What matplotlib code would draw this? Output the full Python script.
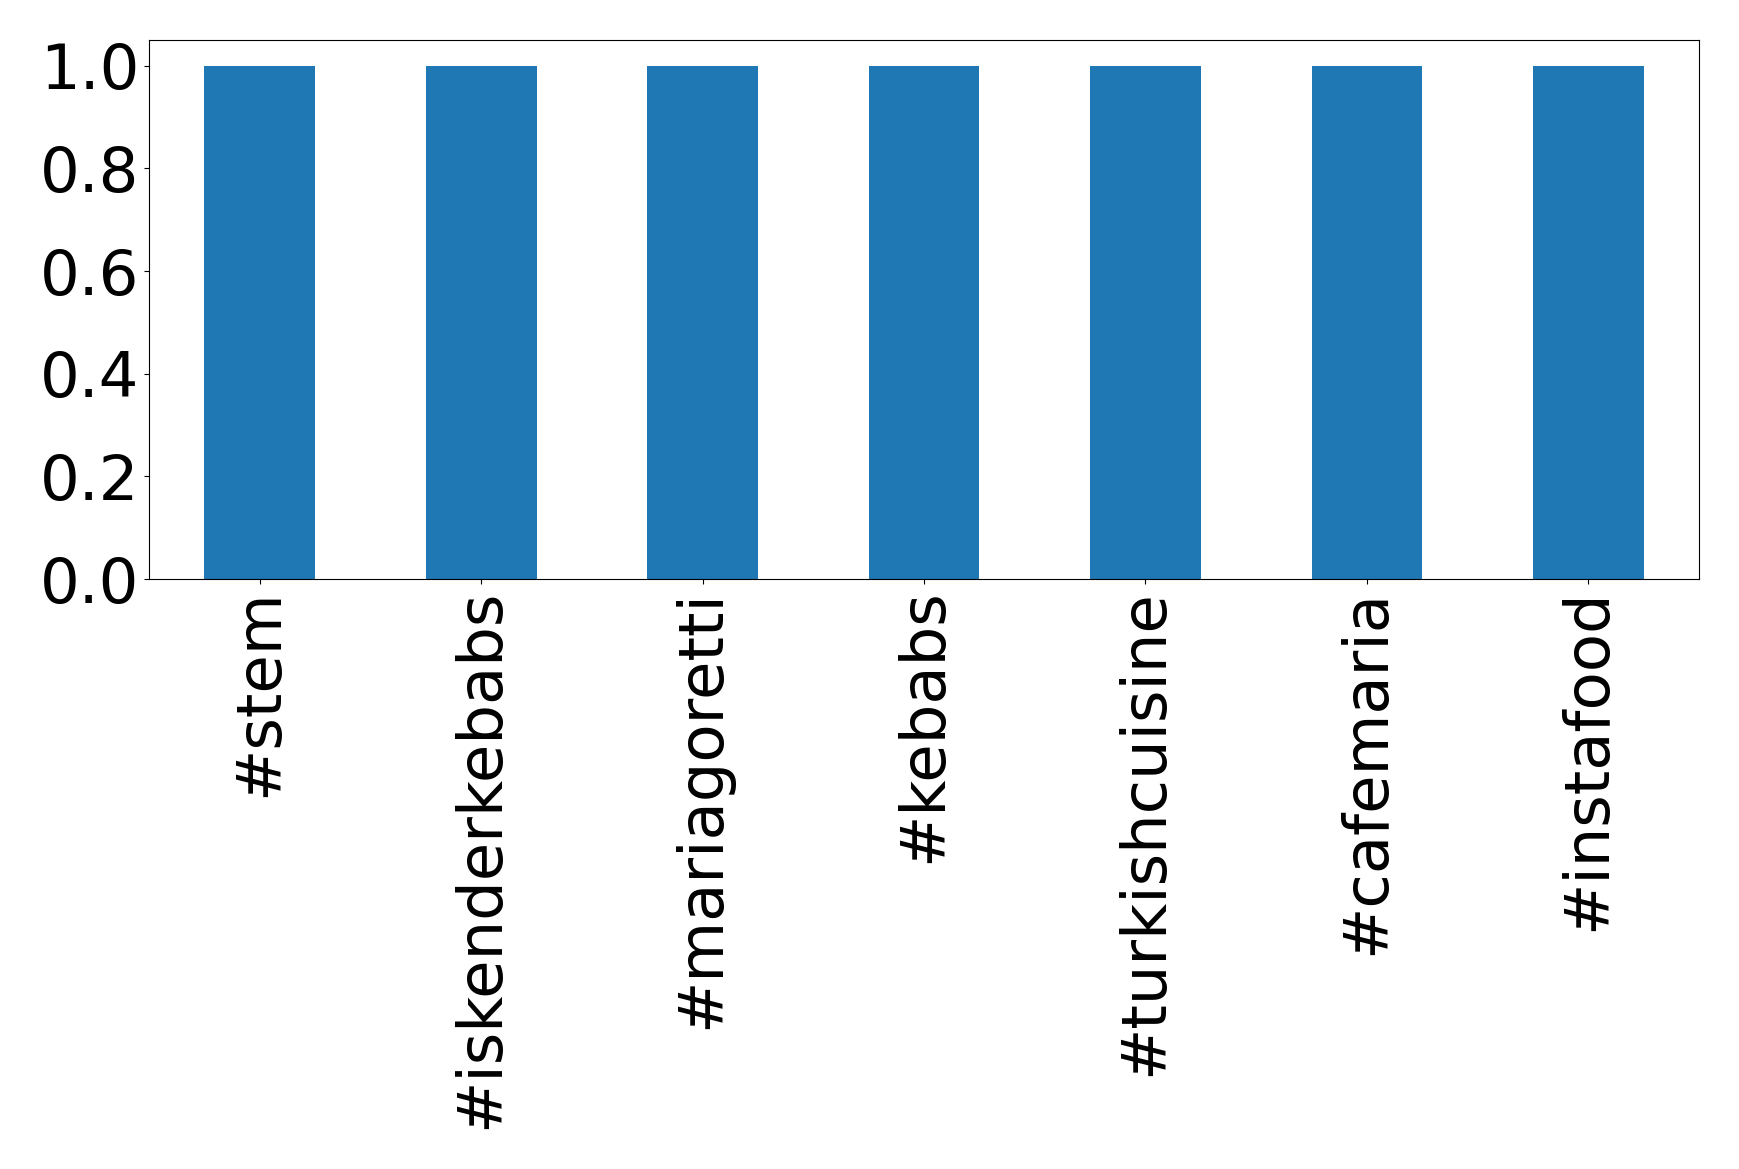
import matplotlib
matplotlib.use('Agg')
import matplotlib.pyplot as plt

hashtags = ['#stem', '#iskenderkebabs', '#mariagoretti', '#kebabs',
            '#turkishcuisine', '#cafemaria', '#instafood']
counts = [1, 1, 1, 1, 1, 1, 1]
yticks = [0.0, 0.2, 0.4, 0.6, 0.8, 1.0]

fig = plt.figure(figsize=(17.39, 11.69), dpi=100)
ax = fig.add_axes([149/1739, 1 - 579/1169, (1699-149)/1739, (579-40)/1169])
x = range(len(hashtags))
ax.bar(x, counts, width=0.5, color='#1f77b4')
ax.set_xlim(-0.5, len(hashtags) - 0.5)
ax.set_xticks(list(x))
ax.set_xticklabels(hashtags, rotation=90)
ax.set_yticks(yticks)
ax.tick_params(labelsize=45)

plt.savefig('out.png', dpi=100)
